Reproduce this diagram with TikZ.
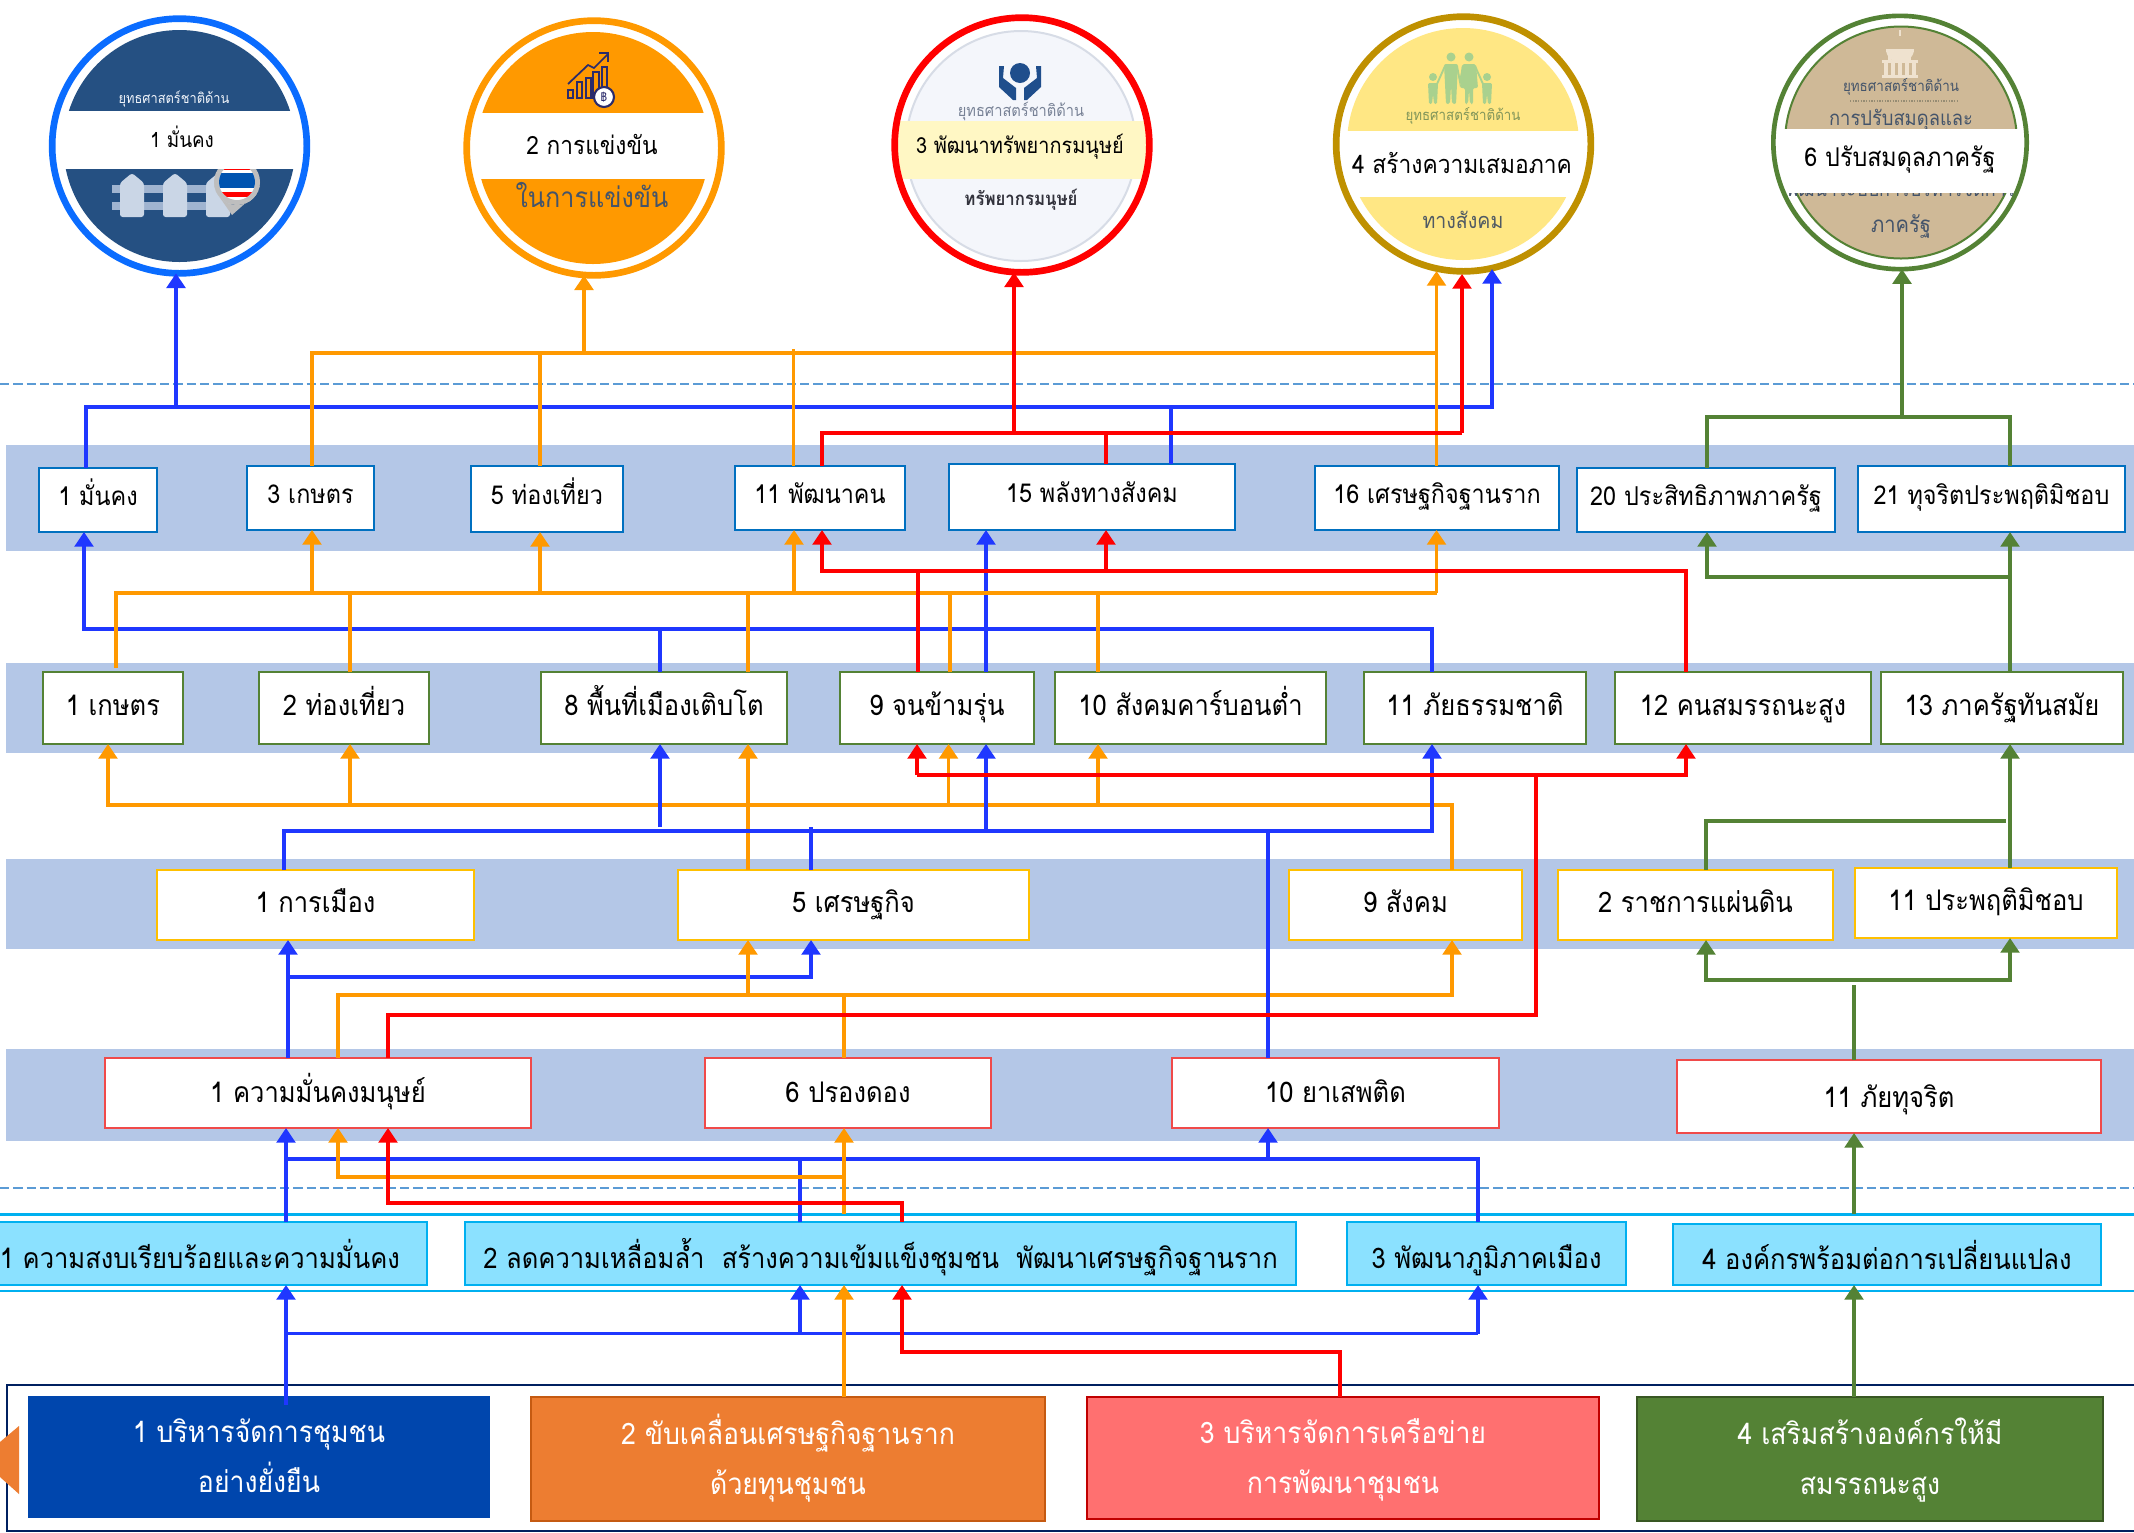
\documentclass[tikz,border=0pt]{standalone}
\usepackage{fontspec}
\usetikzlibrary{arrows.meta,calc}
\newfontfamily\thai[Script=Thai,FakeStretch=0.9]{Loma}
\newcommand{\thsz}[1]{\thai\fontsize{#1}{#1}\selectfont}
\newcommand{\mybox}[7]{\pgfmathsetmacro\ww{(#5-#3)*0.75}\pgfmathsetmacro\hh{(#6-#4)*0.75}%
\node[#2,minimum width=\ww pt,minimum height=\hh pt] (#1) at ({(#3+#5)/2},{(#4+#6)/2}) {#7};}
\definecolor{cband}{HTML}{B4C7E7}
\definecolor{cdash}{HTML}{5B9BD5}
\definecolor{ccyan}{HTML}{00B0F0}
\definecolor{cblue}{HTML}{1F37FF}
\definecolor{corange}{HTML}{FF9900}
\definecolor{cred}{HTML}{FF0000}
\definecolor{cgreen}{HTML}{548235}
\definecolor{cA}{HTML}{0070C0}
\definecolor{cC}{HTML}{FFC000}
\definecolor{cD}{HTML}{F04A4A}
\definecolor{cE}{HTML}{8BE1FF}
\definecolor{cnavy}{HTML}{2B2B6B}
\definecolor{cslate}{HTML}{44546A}
\definecolor{cbeige}{HTML}{EFE2CF}
\definecolor{cfam}{HTML}{A9D18E}
\definecolor{chand}{HTML}{1F4E8C}
\definecolor{cring}{HTML}{0A6CFF}
\tikzset{
 base/.style={inner sep=0pt,outer sep=0pt},
 rowa/.style={base,draw=cA,fill=white,line width=1.9pt,font=\thsz{19.5},text height=15pt,text depth=6.2pt},
 rowb/.style={base,draw=cgreen,fill=white,line width=1.9pt,font=\thsz{21.3},text height=18pt,text depth=6.2pt},
 rowc/.style={base,draw=cC,fill=white,line width=1.9pt,font=\thsz{21.3},text height=18pt,text depth=6.2pt},
 rowd/.style={base,draw=cD,fill=white,line width=1.9pt,font=\thsz{21.3},text height=20.8pt,text depth=6.2pt},
 rowe/.style={base,draw=ccyan,fill=cE,line width=1.9pt,font=\thsz{21.3},text height=28pt,text depth=6pt},
 rowf/.style={base,align=center,text=white,font=\thai\fontsize{22.2}{37.5}\selectfont},
 ring/.style={circle,draw,inner sep=0pt,outer sep=0pt,fill=none},
 lblue/.style={draw=cblue,line width=2.5pt},
 lorange/.style={draw=corange,line width=2.5pt},
 lred/.style={draw=cred,line width=2.5pt},
 lgreen/.style={draw=cgreen,line width=2.5pt},
 band/.style={fill=cband,draw=none},
 dashline/.style={draw=cdash,line width=1.6pt,dash pattern=on 7pt off 3pt},
 cyanline/.style={draw=ccyan,line width=1.9pt},
 label/.style={inner sep=0pt,outer sep=0pt}
}
\begin{document}
\begin{tikzpicture}[x=0.75pt,y=-0.75pt,>={Triangle[length=11pt,width=14pt]}]
\useasboundingbox (0,0) rectangle (2134,1532);
\fill[white] (0,0) rectangle (2134,1532);
% ---- bands and guide lines
\fill[band] (6,445) rectangle (2134,551);
\fill[band] (6,663) rectangle (2134,753);
\fill[band] (6,859) rectangle (2134,949);
\fill[band] (6,1049) rectangle (2134,1141);
\draw[dashline] (0,384) -- (2134,384);
\draw[dashline] (0,1188) -- (2134,1188);
\draw[cyanline] (0,1214.5) -- (2134,1214.5);
\draw[cyanline] (0,1291) -- (2134,1291);
% ---- circle 1
\fill[fill={rgb,255:red,37;green,80;blue,130}] (179.5,146) circle [radius=116];
\begin{scope}
\clip (179.5,146) circle [radius=116];
\foreach \r in {185,202}{\fill[fill={rgb,255:red,160;green,180;blue,208}] (112,\r) rectangle (214,\r+8);}
\foreach \p in {120,163,206}{\fill[fill={rgb,255:red,202;green,214;blue,230},rounded corners=2pt] (\p,217) -- (\p,183) -- (\p+12,173) -- (\p+24,183) -- (\p+24,217) -- cycle;}
\fill[fill={rgb,255:red,190;green,190;blue,190}] (214,182) arc [start angle=180,end angle=0,radius=23] -- (258,192) -- (232,215) -- (216,192) -- cycle;
\fill[fill={rgb,255:red,190;green,190;blue,190}] (237,182) circle [radius=23];
\begin{scope}
\clip (237,182) circle [radius=18];
\fill[white] (215,160) rectangle (260,200);
\fill[fill={rgb,255:red,0;green,84;blue,176}] (215,173) rectangle (260,188);
\fill[cred] (215,192) rectangle (260,197);
\fill[cred] (215,160) rectangle (260,170);
\end{scope}
\end{scope}
\begin{scope}
\clip (179.5,146) circle [radius=126];
\fill[white] (0,111) rectangle (400,169);
\end{scope}
\node[label,text=white!80!cband,font=\thsz{10.7}] (t1a) at (174,99) {ยุทธศาสตร์ชาติด้าน};
\node[ring,draw=cring,line width=5pt,minimum size=191pt] (S1) at (179.5,146) {};
\node[label,font=\thsz{15.7}] (t1) at (182,137) {1 มั่นคง};
% ---- circle 2
\fill[corange] (593,148) circle [radius=116];
\begin{scope}
\clip (593,148) circle [radius=126];
\fill[white] (400,113) rectangle (800,179);
\end{scope}
\begin{scope}[draw=cnavy,line width=1.3pt]
\draw (568,90) rectangle (573,98);
\draw (577,82) rectangle (582,98);
\draw (586,78) rectangle (591,98);
\draw (593,72) rectangle (599,98);
\draw (602,67) rectangle (607,92);
\draw (568,84) -- (588,65) -- (594,68) -- (608,54);
\draw (599,53) -- (608,53) -- (608,62);
\fill[white] (604,97) circle [radius=10];
\draw[line width=1.6pt] (604,97) circle [radius=10];
\end{scope}
\node[label,text=cnavy,font=\thsz{9}] (t2b) at (604,97) {฿};
\node[label,text=cslate,font=\thsz{21}] (t2a) at (592,195) {ในการแข่งขัน};
\node[ring,draw=corange,line width=5pt,minimum size=191pt] (S2) at (594,148) {};
\node[label,font=\thsz{18.9}] (t2) at (592,144) {2 การแข่งขัน};
% ---- circle 3
\fill[fill={rgb,255:red,244;green,246;blue,251},draw={rgb,255:red,215;green,220;blue,230},line width=1.5pt] (1021,146) circle [radius=115];
\begin{scope}
\clip (1021,146) circle [radius=126];
\fill[fill={rgb,255:red,255;green,247;blue,196}] (800,121) rectangle (1250,179);
\end{scope}
\fill[chand] (1020,73) circle [radius=10];
\fill[chand] (999,66) -- (1004,66) -- (1003,78) -- (1016,88) -- (1016,100) -- (1013,100) -- (999,87) -- cycle;
\fill[chand] (1041,66) -- (1036,66) -- (1037,78) -- (1024,88) -- (1024,100) -- (1027,100) -- (1041,87) -- cycle;
\node[label,text={rgb,255:red,120;green,130;blue,150},font=\thsz{12.2}] (t3a) at (1021,111) {ยุทธศาสตร์ชาติด้าน};
\node[label,text={rgb,255:red,50;green,50;blue,60},font=\thai\fontsize{14}{14}\selectfont\bfseries] (t3b) at (1021,200) {ทรัพยากรมนุษย์};
\node[ring,draw=cred,line width=5pt,minimum size=191pt] (S3) at (1022,145) {};
\node[label,font=\thsz{16.6}] (t3) at (1020,147) {3 พัฒนาทรัพยากรมนุษย์};
% ---- circle 4
\fill[fill={rgb,255:red,255;green,231;blue,132}] (1463,144) circle [radius=116];
\begin{scope}
\clip (1463,144) circle [radius=126];
\fill[white] (1250,131) rectangle (1680,197);
\end{scope}
\begin{scope}[fill=cfam,draw=cfam]
\fill (1451,57) circle [radius=4.5];
\fill (1469,57) circle [radius=4.5];
\fill (1433,77) circle [radius=4];
\fill (1487,77) circle [radius=4];
\fill[rounded corners=1.5pt] (1444,64) -- (1458,64) -- (1456,104) -- (1452,104) -- (1451,85) -- (1450,104) -- (1446,104) -- cycle;
\fill[rounded corners=1.5pt] (1462,64) -- (1476,64) -- (1478,88) -- (1473,88) -- (1473,104) -- (1470,104) -- (1469,90) -- (1468,104) -- (1465,104) -- (1465,88) -- (1460,88) -- cycle;
\fill[rounded corners=1pt] (1428,83) -- (1438,83) -- (1437,104) -- (1434,104) -- (1433,94) -- (1432,104) -- (1429,104) -- cycle;
\fill[rounded corners=1pt] (1482,83) -- (1492,83) -- (1491,104) -- (1488,104) -- (1487,94) -- (1486,104) -- (1483,104) -- cycle;
\draw[line width=1.4pt] (1445,66) -- (1437,84);
\draw[line width=1.4pt] (1475,66) -- (1483,84);
\draw[line width=1.4pt] (1457,66) -- (1460,82) -- (1463,66);
\end{scope}
\node[label,text={rgb,255:red,130;green,150;blue,90},font=\thsz{11.1}] (t4a) at (1463,116) {ยุทธศาสตร์ชาติด้าน};
\node[label,text={rgb,255:red,80;green,90;blue,100},font=\thsz{16.3}] (t4b) at (1463,220) {ทางสังคม};
\node[ring,draw={rgb,255:red,191;green,144;blue,0},line width=5pt,minimum size=191pt] (S4) at (1463.5,144) {};
\node[label,font=\thsz{19}] (t4) at (1462,163) {4 สร้างความเสมอภาค};
% ---- circle 5
\fill[fill={rgb,255:red,207;green,185;blue,151},draw=cgreen,line width=1.5pt] (1901,142.5) circle [radius=116];
\begin{scope}[fill=cbeige]
\fill (1886,49) arc [start angle=180,end angle=0,radius=14] -- cycle;
\fill (1899,30) rectangle (1901,36);
\fill (1886,49) rectangle (1914,52);
\foreach \c in {1888,1893,1898,1903,1908}{\fill (\c,53) rectangle (\c+3,60);}
\fill (1882,60) rectangle (1918,63);
\foreach \c in {1884,1891,1898,1905,1912}{\fill (\c,63) rectangle (\c+4,75);}
\fill (1882,75) rectangle (1918,78);
\end{scope}
\begin{scope}[every node/.style={label,text=cslate}]
\node[font=\thsz{11.2}] (t5a) at (1901,87) {ยุทธศาสตร์ชาติด้าน};
\node[font=\thsz{15.3}] (t5b) at (1901,120) {การปรับสมดุลและ};
\node[font=\thsz{15}] (t5c) at (1901,189) {พัฒนาระบบการบริหารจัดการ};
\node[font=\thsz{16.8}] (t5d) at (1901,226) {ภาครัฐ};
\end{scope}
\draw[draw={rgb,255:red,150;green,140;blue,115},line width=1pt,dash pattern=on 1pt off 1pt] (1850,101) -- (1958,101);
\begin{scope}
\clip (1900,142.5) circle [radius=126];
\fill[white] (1700,129) rectangle (2100,193);
\end{scope}
\node[ring,draw=cgreen,line width=3.5pt,minimum size=190pt] (S5) at (1900,142.5) {};
\node[label,font=\thsz{19.4}] (t5) at (1900,160) {6 ปรับสมดุลภาครัฐ};
% ---- row A
\mybox{A1}{rowa}{39}{468}{157}{532}{1 มั่นคง}
\mybox{A3}{rowa}{247}{466}{374}{530}{3 เกษตร}
\mybox{A5}{rowa}{471}{466}{623}{532}{5 ท่องเที่ยว}
\mybox{A11}{rowa}{735}{466}{905}{530}{11 พัฒนาคน}
\mybox{A15}{rowa}{949}{464}{1235}{530}{15 พลังทางสังคม}
\mybox{A16}{rowa}{1315}{466}{1559}{530}{16 เศรษฐกิจฐานราก}
\mybox{A20}{rowa}{1577}{468}{1835}{532}{20 ประสิทธิภาพภาครัฐ}
\mybox{A21}{rowa}{1858}{466}{2125}{532}{21 ทุจริตประพฤติมิชอบ}
% ---- row B
\mybox{B1}{rowb}{43}{672}{183}{744}{1 เกษตร}
\mybox{B2}{rowb}{259}{672}{429}{744}{2 ท่องเที่ยว}
\mybox{B8}{rowb}{541}{672}{787}{744}{8 พื้นที่เมืองเติบโต}
\mybox{B9}{rowb}{840}{672}{1034}{744}{9 จนข้ามรุ่น}
\mybox{B10}{rowb}{1055}{672}{1326}{744}{10 สังคมคาร์บอนต่ำ}
\mybox{B11}{rowb}{1364}{672}{1586}{744}{11 ภัยธรรมชาติ}
\mybox{B12}{rowb}{1615}{672}{1871}{744}{12 คนสมรรถนะสูง}
\mybox{B13}{rowb}{1881}{672}{2123}{744}{13 ภาครัฐทันสมัย}
% ---- row C
\mybox{C1}{rowc}{157}{870}{474}{940}{1 การเมือง}
\mybox{C5}{rowc}{678}{870}{1029}{940}{5 เศรษฐกิจ}
\mybox{C9}{rowc}{1289}{870}{1522}{940}{9 สังคม}
\mybox{C2}{rowc}{1558}{870}{1833}{940}{2 ราชการแผ่นดิน}
\mybox{C11}{rowc}{1855}{868}{2117}{938}{11 ประพฤติมิชอบ}
% ---- row D
\mybox{D1}{rowd}{105}{1058}{531}{1128}{1 ความมั่นคงมนุษย์}
\mybox{D6}{rowd}{705}{1058}{991}{1128}{6 ปรองดอง}
\mybox{D10}{rowd}{1172}{1058}{1499}{1128}{10 ยาเสพติด}
\mybox{D11}{rowd,text height=23pt}{1677}{1060}{2101}{1133}{11 ภัยทุจริต}
% ---- row E
\mybox{E1}{rowe}{-6}{1222}{427}{1285}{\mbox{1 ความสงบเรียบร้อยและความมั่นคง\kern16pt}}
\mybox{E2}{rowe}{465}{1222}{1296}{1285}{2 ลดความเหลื่อมล้ำ~~สร้างความเข้มแข็งชุมชน~~พัฒนาเศรษฐกิจฐานราก}
\mybox{E3}{rowe}{1347}{1222}{1626}{1285}{3 พัฒนาภูมิภาคเมือง}
\mybox{E4}{rowe}{1673}{1224}{2101}{1285}{4 องค์กรพร้อมต่อการเปลี่ยนแปลง}
% ---- row F
\draw[draw={rgb,255:red,0;green,32;blue,96},line width=1.9pt] (2140,1385) -- (7,1385) -- (7,1531) -- (2140,1531);
\fill[fill={rgb,255:red,237;green,125;blue,49}] (19,1426) -- (19,1494) -- (0,1477) -- (0,1442) -- cycle;
\mybox{F1}{rowf,fill={rgb,255:red,0;green,70;blue,173}}{28}{1396}{490}{1518}{\strut 1 บริหารจัดการชุมชน\\\strut อย่างยั่งยืน}
\mybox{F2}{rowf,fill={rgb,255:red,237;green,125;blue,49},draw={rgb,255:red,197;green,90;blue,17},line width=1.6pt}{531}{1397}{1045}{1521}{\strut 2 ขับเคลื่อนเศรษฐกิจฐานราก\\\strut ด้วยทุนชุมชน}
\mybox{F3}{rowf,fill={rgb,255:red,255;green,112;blue,112},draw={rgb,255:red,192;green,0;blue,0},line width=1.6pt}{1087}{1397}{1599}{1519}{\strut 3 บริหารจัดการเครือข่าย\\\strut การพัฒนาชุมชน}
\mybox{F4}{rowf,fill=cgreen,draw={rgb,255:red,56;green,87;blue,35},line width=1.6pt}{1637}{1397}{2103}{1521}{\strut 4 เสริมสร้างองค์กรให้มี\\\strut สมรรถนะสูง}
% ---- junction coordinates
\coordinate (s4o) at (1436.5,271);
\coordinate (s4r) at (1462,274);
\coordinate (s4b) at (1492,269);
% ---- connectors: F -> E
\draw[lblue,->] (286,1405) -- (E1.south -| 286,0);
\draw[lblue] (286,1333.5) -- (1478,1333.5);
\draw[lblue,->] (800,1333.5) -- (E2.south -| 800,0);
\draw[lblue,->] (1478,1333.5) -- (E3.south -| 1478,0);
\draw[lorange,->] (F2.north -| 844,0) -- (E2.south -| 844,0);
\draw[lred,->] (F3.north -| 1340,0) |- (902,1352) -- (E2.south -| 902,0);
\draw[lgreen,->] (F4.north -| 1854,0) -- (E4.south -| 1854,0);
% ---- E -> D
\draw[lblue,->] (E1.north -| 286,0) -- (D1.south -| 286,0);
\draw[lblue] (286,1159) -- (1478,1159) -- (E3.north -| 1478,0);
\draw[lblue] (E2.north -| 800,0) -- (800,1159);
\draw[lblue,->] (1268,1159) -- (D10.south -| 1268,0);
\draw[lorange,->] (844,1177) -| (D1.south -| 338,0);
\draw[lorange,->] (844,1213.5) -- (D6.south -| 844,0);
\draw[lred,->] (E2.north -| 902,0) |- (388,1203) -- (D1.south -| 388,0);
\draw[lgreen,->] (1854,1214) -- (D11.south -| 1854,0);
% ---- D -> C
\draw[lblue,->] (D1.north -| 288,0) -- (C1.south -| 288,0);
\draw[lblue,->] (288,977) -| (C5.south -| 811,0);
\draw[lorange,->] (D1.north -| 338,0) |- (1452,995) -- (C9.south -| 1452,0);
\draw[lorange,->] (748,995) -- (C5.south -| 748,0);
\draw[lorange] (D6.north -| 844,0) -- (844,995);
\draw[lgreen] (D11.north -| 1854,0) -- (1854,985);
\draw[lgreen,->] (1854,980) -| (C2.south -| 1706,0);
\draw[lgreen,->] (1854,980) -| (C11.south -| 2010,0);
% ---- C -> B
\draw[lorange,->] (C9.north -| 1452,0) |- (108,805) -- (B1.south -| 108,0);
\draw[lorange,->] (350,805) -- (B2.south -| 350,0);
\draw[lorange,->] (948.5,805) -- (B9.south -| 948.5,0);
\draw[lorange,->] (1098,805) -- (B10.south -| 1098,0);
\draw[lorange,->] (C5.north -| 748,0) -- (B8.south -| 748,0);
\draw[lblue,->] (C1.north -| 284,0) |- (1432,831) -- (B11.south -| 1432,0);
\draw[lblue,->] (660,827) -- (B8.south -| 660,0);
\draw[lblue,->] (986,831) -- (B9.south -| 986,0);
\draw[lblue] (C5.north -| 811,0) -- (811,827);
\draw[lblue] (D10.north -| 1268,0) -- (1268,831);
\draw[lred,->] (917,775) -- (B9.south -| 917,0);
\draw[lred,->] (917,775) -| (B12.south -| 1686,0);
\draw[lred] (1536,775) -- (1536,1015) -- (388,1015) -- (D1.north -| 388,0);
\draw[lgreen] (C2.north -| 1706,0) |- (2006,821);
\draw[lgreen,->] (C11.north -| 2010,0) -- (B13.south -| 2010,0);
% ---- B -> A
\draw[lblue,->] (B11.north -| 1432,0) |- (84,629) -- (A1.south -| 84,0);
\draw[lblue] (B8.north -| 660,0) -- (660,629);
\draw[lblue,->] (B9.north -| 986,0) -- (A15.south -| 986,0);
\draw[lorange] (116,668) |- (1436.5,593);
\draw[lorange,->] (1436.5,593) -- (A16.south -| 1436.5,0);
\draw[lorange,->] (312,593) -- (A3.south -| 312,0);
\draw[lorange,->] (540,593) -- (A5.south -| 540,0);
\draw[lorange,->] (794,593) -- (A11.south -| 794,0);
\draw[lorange] (B2.north -| 350,0) -- (350,593);
\draw[lorange] (B8.north -| 748,0) -- (748,593);
\draw[lorange] (B9.north -| 950,0) -- (950,593);
\draw[lorange] (B10.north -| 1098,0) -- (1098,593);
\draw[lred,->] (B12.north -| 1686,0) |- (822,571) -- (A11.south -| 822,0);
\draw[lred] (B9.north -| 918,0) -- (918,571);
\draw[lred,->] (1106,571) -- (A15.south -| 1106,0);
\draw[lgreen,->] (B13.north -| 2010,0) -- (A21.south -| 2010,0);
\draw[lgreen,->] (2010,577) -| (A20.south -| 1707,0);
% ---- A -> strategy circles
\draw[lblue,->] (A1.north -| 86,0) |- (1492,407) -- (s4b);
\draw[lblue,->] (176,407) -- (S1.south -| 176,0);
\draw[lblue] (A15.north -| 1171,0) -- (1171,407);
\draw[lorange] (A3.north -| 312,0) |- (1436.5,353);
\draw[lorange] (A5.north -| 540,0) -- (540,353);
\draw[lorange] (A11.north -| 793.5,0) -- (793.5,349);
\draw[lorange,->] (584,353) -- (S2.south -| 584,0);
\draw[lorange,->] (A16.north -| 1436.5,0) -- (s4o);
\draw[lred] (A11.north -| 822,0) |- (1462,433);
\draw[lred,->] (1462,433) -- (s4r);
\draw[lred,->] (1014,433) -- (S3.south -| 1014,0);
\draw[lred] (A15.north -| 1106,0) -- (1106,433);
\draw[lgreen] (A20.north -| 1707,0) |- (2010,417) -- (A21.north -| 2010,0);
\draw[lgreen,->] (1902,417) -- (S5.south -| 1902,0);
\end{tikzpicture}
\end{document}
